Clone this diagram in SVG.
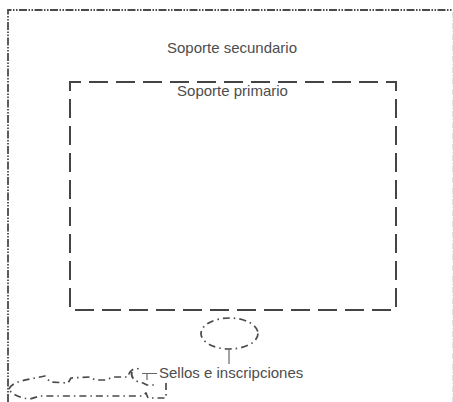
<svg xmlns="http://www.w3.org/2000/svg" width="453" height="402" viewBox="0 0 453 402">
<style>
  .lbl{font-family:"Liberation Sans",Arial,Helvetica,sans-serif;font-size:15px;fill:#4d4d4d}
  .outer{fill:none;stroke:#4a4a4a;stroke-width:1.8;stroke-dasharray:8 1.5 1.5 1.5 1.5 1.5}
  .primary{fill:none;stroke:#444;stroke-width:2;stroke-dasharray:19 8}
  .dashdot{fill:none;stroke:#4a4a4a;stroke-width:1.7;stroke-dasharray:7 4 1.5 4;stroke-linejoin:round}
  .lead{fill:none;stroke:#666;stroke-width:1.2}
</style>
<rect width="453" height="402" fill="#ffffff"/>
<g id="soporte-secundario">
  <path class="outer" d="M8,402 L8,10 L453,10"/>
  <path d="M452.5,12 L452.5,402" fill="none" stroke="#e2e2e2" stroke-width="1" stroke-dasharray="6 2 1 2"/>
  <text class="lbl" x="232" y="53" text-anchor="middle">Soporte secundario</text>
</g>
<g id="soporte-primario">
  <path class="primary" d="M80,82 L70,82 L70,310 L396,310 L396,82 Z"/>
  <text class="lbl" x="232.5" y="96" text-anchor="middle">Soporte primario</text>
</g>
<g id="sello-ellipse">
  <ellipse class="dashdot" cx="229.5" cy="333.5" rx="28.5" ry="15.5"/>
</g>
<g id="sellos-inscripciones">
  <path class="dashdot" d="M9,389 C12,383 20,381 30,379 L45,376 L50,382 L68,383 L71,378 L90,377 L95,380 L106,380 L113,377 L128,377 C129,371 134,367 139,369 M132,372 C130,378 136,382 143,383 L147,385 L157,385 M166,383 L166,398 L148,398 L146,393 L142,396 L40,396 L30,399 C20,398 14,395 10,391"/>
  <text class="lbl" x="159" y="377.5">Sellos e inscripciones</text>
</g>
<g id="connectors">
  <path class="lead" d="M229,349 L229,364"/>
  <path class="lead" d="M142,373.5 L157,373.5 M147,373.5 L147,380"/>
</g>
</svg>
